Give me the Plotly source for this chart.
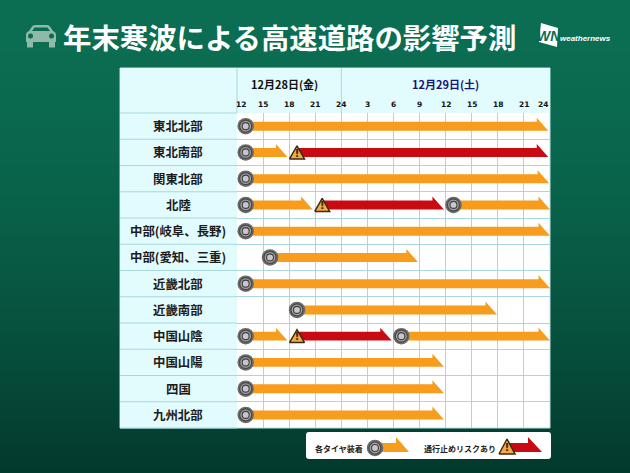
import plotly.graph_objects as go

# ---- data ----
regions = ["東北北部", "東北南部", "関東北部", "北陸", "中部(岐阜、長野)", "中部(愛知、三重)",
           "近畿北部", "近畿南部", "中国山陰", "中国山陽", "四国", "九州北部"]
hour_ticks = [12, 15, 18, 21, 24, 27, 30, 33, 36, 39, 42, 45, 48]
hour_labels = ["12", "15", "18", "21", "24", "3", "6", "9", "12", "15", "18", "21", "24"]
day_labels = ["12月28日(金)", "12月29日(土)"]
day_centers = [17.5, 36]

orange_rows = [0, 1, 2, 3, 3, 4, 5, 6, 7, 8, 8, 9, 10, 11]
orange_starts = [13, 13, 13, 13, 36.9, 13, 15.8, 13, 18.9, 13, 30.9, 13, 13, 13]
orange_ends = [47.8, 17.8, 47.9, 20.7, 48, 48, 32.8, 48, 41.9, 17.8, 48, 35.8, 35.8, 35.8]

red_rows = [1, 3, 8]
red_starts = [18.9, 21.8, 18.9]
red_ends = [47.8, 35.8, 29.8]

title_text = "年末寒波による高速道路の影響予測"
legend_tire = "各タイヤ装着"
legend_risk = "通行止めリスクあり"

# ---- styling constants ----
W, H = 630, 473
TX0, TX1, TY0, THEAD, TY1 = 120, 550, 68, 113, 428
ROW_H = (TY1 - THEAD) / len(regions)
HR_W = (TX1 - 237) / 36
ORANGE, RED = "#f79c1c", "#c90a12"
CJK = "Noto Sans CJK JP"

TOP = (11, 110, 83)
BOTTOM = (3, 58, 46)


def arrow_poly(rows, starts, ends):
    xs, ys = [], []
    for r, s, e in zip(rows, starts, ends):
        head = 11.5 / HR_W
        xs += [s, e - head, e - head, e, s, s, None]
        ys += [r - 4.5 / ROW_H, r - 4.5 / ROW_H, r - 8.5 / ROW_H, r + 4.5 / ROW_H, r + 4.5 / ROW_H, r - 4.5 / ROW_H, None]
    return xs, ys


def warn_poly(rows, starts):
    xs, ys = [], []
    for r, s in zip(rows, starts):
        xs += [s - 7.5 / HR_W, s, s + 7.5 / HR_W, s - 7.5 / HR_W, None]
        ys += [r + 6.5 / ROW_H, r - 6.5 / ROW_H, r + 6.5 / ROW_H, r + 6.5 / ROW_H, None]
    return xs, ys


def tire_traces(xs, ys, xaxis, yaxis):
    out = []
    for size, col, lw, lc in [(16.5, "#6b6b6b", 0, "#6b6b6b"), (12, "#a3a3a3", 1.2, "#474747"), (7, "#cbc3cd", 1.1, "#3f3f3f")]:
        out.append(go.Scatter(x=xs, y=ys, mode="markers", xaxis=xaxis, yaxis=yaxis, hoverinfo="skip",
                              marker=dict(size=size, color=col, line=dict(width=lw, color=lc)), showlegend=False,
                              cliponaxis=False))
    return out


fig = go.Figure()

shapes = []
# background gradient (pixel axes x/y)
N = 80
for i in range(N):
    t = i / (N - 1)
    t2 = t ** 1.6
    c = tuple(round(a + (b - a) * t2) for a, b in zip(TOP, BOTTOM))
    shapes.append(dict(type="rect", xref="x", yref="y", x0=0, x1=W, y0=i * H / N, y1=(i + 1) * H / N + 1,
                       fillcolor=f"rgb{c}", line_width=0, layer="below"))
# table pieces
shapes += [
    dict(type="rect", xref="x", yref="y", x0=TX0, x1=TX1, y0=TY0, y1=TY1, fillcolor="#ffffff", line=dict(color="#b6e2e4", width=1), layer="below"),
    dict(type="rect", xref="x", yref="y", x0=TX0, x1=TX1, y0=TY0, y1=THEAD, fillcolor="#e2fbfd", line_width=0, layer="below"),
    dict(type="rect", xref="x", yref="y", x0=TX0, x1=237, y0=THEAD, y1=TY1, fillcolor="#e2fbfd", line_width=0, layer="below"),
]
GRID = "#a9d8dc"
for i in range(len(regions) + 1):
    y = THEAD + i * ROW_H
    shapes.append(dict(type="line", xref="x", yref="y", x0=TX0, x1=237, y0=y, y1=y, line=dict(color=GRID, width=1), layer="below"))
for x in (237, 237 + 12 * HR_W):
    shapes.append(dict(type="line", xref="x", yref="y", x0=x, x1=x, y0=TY0, y1=THEAD, line=dict(color=GRID, width=1), layer="below"))

# car icon
CAR = "#8fb9a9"
shapes += [
    dict(type="path", xref="x", yref="y", fillcolor=CAR, line_width=0, layer="below",
         path="M 29 31 L 32 26.5 Q 33 25 35 25 L 47 25 Q 49 25 50 26.5 L 53 31 Q 56 32 56 35 L 56 42 L 26 42 L 26 35 Q 26 32 29 31 Z"),
    dict(type="path", xref="x", yref="y", fillcolor="#0b6b50", line_width=0, layer="below",
         path="M 32 31 L 34.5 27.5 L 47.5 27.5 L 50 31 Z"),
    dict(type="rect", xref="x", yref="y", x0=27, x1=33, y0=41, y1=47.5, fillcolor=CAR, line_width=0, layer="below"),
    dict(type="rect", xref="x", yref="y", x0=49, x1=55, y0=41, y1=47.5, fillcolor=CAR, line_width=0, layer="below"),
    dict(type="circle", xref="x", yref="y", x0=28, x1=33, y0=33.5, y1=38.5, fillcolor="#0b6b50", line_width=0, layer="below"),
    dict(type="circle", xref="x", yref="y", x0=49, x1=54, y0=33.5, y1=38.5, fillcolor="#0b6b50", line_width=0, layer="below"),
    # logo plate
    dict(type="path", xref="x", yref="y", fillcolor="#ffffff", line_width=0, layer="below",
         path="M 541 23 L 558 28 L 557 47 L 539 42 Z"),
    # legend box
    dict(type="path", xref="x", yref="y", fillcolor="#ffffff", line_width=0, layer="below",
         path="M 309 432 L 548 432 Q 551 432 551 435 L 551 456 Q 551 459 548 459 L 309 459 Q 306 459 306 456 L 306 435 Q 306 432 309 432 Z"),
]

# data arrows (data axes x2/y2)
xo, yo = arrow_poly(orange_rows, orange_starts, orange_ends)
fig.add_trace(go.Scatter(x=xo, y=yo, mode="lines", fill="toself", fillcolor=ORANGE, line=dict(width=0, color=ORANGE),
                         xaxis="x2", yaxis="y2", hoverinfo="skip", showlegend=False, cliponaxis=False))
xr, yr = arrow_poly(red_rows, red_starts, red_ends)
fig.add_trace(go.Scatter(x=xr, y=yr, mode="lines", fill="toself", fillcolor=RED, line=dict(width=0, color=RED),
                         xaxis="x2", yaxis="y2", hoverinfo="skip", showlegend=False, cliponaxis=False))
for tr in tire_traces(orange_starts, orange_rows, "x2", "y2"):
    fig.add_trace(tr)
xw, yw = warn_poly(red_rows, red_starts)
fig.add_trace(go.Scatter(x=xw, y=yw, mode="lines", fill="toself", fillcolor="#f3ac45", line=dict(width=1.5, color="#3b2a12"),
                         xaxis="x2", yaxis="y2", hoverinfo="skip", showlegend=False, cliponaxis=False))
fig.add_trace(go.Scatter(x=red_starts, y=[r + 1.5 / ROW_H for r in red_rows], mode="text", text=["!"] * len(red_rows),
                         textfont=dict(family="DejaVu Sans", size=11, color="#3b2a12", weight=700), xaxis="x2", yaxis="y2",
                         hoverinfo="skip", showlegend=False, cliponaxis=False))

# legend glyphs (pixel axes)
LEG_Y = 452
def leg_arrow(x0, x1, headx, col):
    return go.Scatter(x=[x0, headx, headx, x1, x0, x0], y=[LEG_Y - 9, LEG_Y - 9, LEG_Y - 15, LEG_Y, LEG_Y, LEG_Y - 9],
                      mode="lines", fill="toself", fillcolor=col, line=dict(width=0, color=col), xaxis="x", yaxis="y",
                      hoverinfo="skip", showlegend=False)
fig.add_trace(leg_arrow(375, 409, 396, ORANGE))
fig.add_trace(leg_arrow(507, 542, 528, RED))
for tr in tire_traces([375], [448], "x", "y"):
    fig.add_trace(tr)
fig.add_trace(go.Scatter(x=[499, 507, 515, 499], y=[454, 439, 454, 454], mode="lines", fill="toself", fillcolor="#f3ac45",
                         line=dict(width=1.5, color="#3b2a12"), xaxis="x", yaxis="y", hoverinfo="skip", showlegend=False))
fig.add_trace(go.Scatter(x=[507], y=[448], mode="text", text=["!"], textfont=dict(family="DejaVu Sans", size=11, color="#3b2a12", weight=700),
                         xaxis="x", yaxis="y", hoverinfo="skip", showlegend=False))

ann = []
ann.append(dict(text=f"<b>{title_text}</b>", xref="x", yref="y", x=289, y=36, showarrow=False,
                font=dict(family=CJK, size=28.4, color="#ffffff")))
# logo text
ann.append(dict(text="<b><i>WN</i></b>", xref="x", yref="y", x=548.5, y=35.5, showarrow=False,
                font=dict(family="Liberation Sans", size=14, color="#0b6b50")))
ann.append(dict(text="<b><i>weathernews</i></b>", xref="x", yref="y", x=585, y=38, showarrow=False,
                font=dict(family="Liberation Sans", size=8, color="#ffffff")))
# region labels
for i, name in enumerate(regions):
    ann.append(dict(text=f"<b>{name}</b>", xref="x", yref="y2", x=178, y=i, showarrow=False,
                    font=dict(family=CJK, size=12.4, color="#1c1c1c")))
# hours and dates
for h, lab in zip(hour_ticks, hour_labels):
    shift = 4 if h == hour_ticks[0] else (-7 if h == hour_ticks[-1] else 0)
    ann.append(dict(text=f"<b>{lab}</b>", xref="x2", yref="y", x=h, y=104, xshift=shift, showarrow=False,
                    font=dict(family="DejaVu Sans", size=7.5, color="#111111")))
for lab, c, col in zip(day_labels, day_centers, ["#111111", "#14147a"]):
    ann.append(dict(text=f"<b>{lab}</b>", xref="x2", yref="y", x=c, y=84, showarrow=False,
                    font=dict(family=CJK, size=11, color=col)))
# legend text
ann.append(dict(text=f"<b>{legend_tire}</b>", xref="x", yref="y", x=339, y=448, showarrow=False,
                font=dict(family=CJK, size=8, color="#222222")))
ann.append(dict(text=f"<b>{legend_risk}</b>", xref="x", yref="y", x=460, y=448, showarrow=False,
                font=dict(family=CJK, size=8, color="#222222")))

fig.update_layout(
    width=W, height=H, autosize=False, margin=dict(l=0, r=0, t=0, b=0),
    paper_bgcolor="#075443", plot_bgcolor="rgba(0,0,0,0)", shapes=shapes, annotations=ann, showlegend=False,
    xaxis2=dict(domain=[237 / W, TX1 / W], range=[12, 48], tick0=12, dtick=3, showgrid=True, gridcolor=GRID, gridwidth=1,
                zeroline=False, showticklabels=False, ticks="", showline=False, anchor="y2"),
    yaxis2=dict(domain=[1 - TY1 / H, 1 - THEAD / H], range=[len(regions) - 0.5, -0.5], tick0=-0.5, dtick=1, showgrid=True,
                gridcolor=GRID, gridwidth=1, zeroline=False, showticklabels=False, ticks="", showline=False, anchor="x2"),
    xaxis=dict(domain=[0, 1], range=[0, W], visible=False, anchor="y"),
    yaxis=dict(domain=[0, 1], range=[H, 0], visible=False, anchor="x"),
)

fig.write_html("out.html", config=dict(displayModeBar=False),
               post_script="document.body.style.margin='0';")
